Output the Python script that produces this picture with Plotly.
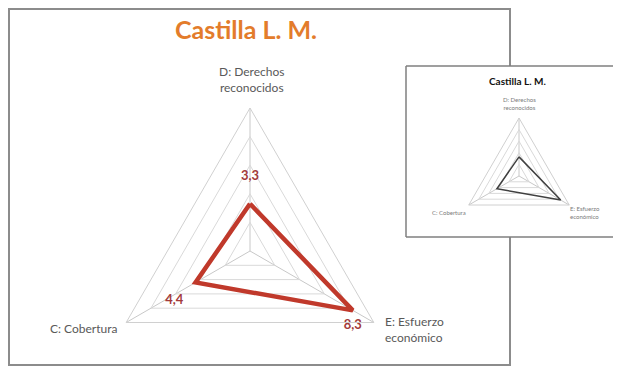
import plotly.graph_objects as go

# radar data (Castilla L. M.)
categories = ["D: Derechos<br>reconocidos", "C: Cobertura", "E: Esfuerzo<br>económico"]
values = [3.3, 4.4, 8.3]
value_labels = ["3,3", "4,4", "8,3"]

W, H = 621, 400
OFF = 8  # page body margin


def px(x):
    return (x - OFF) / W


def py(y):
    return 1 - (y - OFF) / H


cat_closed = categories + categories[:1]
val_closed = values + values[:1]

fig = go.Figure()

# main chart
fig.add_trace(go.Scatterpolar(
    r=val_closed, theta=cat_closed, mode="lines",
    line=dict(color="#C0392B", width=4.5), subplot="polar",
    hoverinfo="skip", showlegend=False))
fig.add_trace(go.Scatterpolar(
    r=values, theta=categories, mode="markers+text",
    text=value_labels, textposition=["top center", "bottom left", "bottom center"],
    marker=dict(size=[32, 18, 12], opacity=0),
    textfont=dict(family="Lato", size=13, color="#A33A3A", weight="bold"),
    subplot="polar", hoverinfo="skip", showlegend=False))

# small inset copy
fig.add_trace(go.Scatterpolar(
    r=val_closed, theta=cat_closed, mode="lines",
    line=dict(color="#404040", width=1.5), subplot="polar2",
    hoverinfo="skip", showlegend=False))

radial = dict(range=[0, 10], dtick=2, showticklabels=False, ticks="",
              showline=False, gridcolor="#d9d9d9", gridwidth=1)
angular = dict(rotation=90, direction="counterclockwise", ticks="", showticklabels=False,
               showline=True, linecolor="#d0d0d0", gridcolor="#c8c8c8")

# category labels placed by hand around the triangles
main_lab = [(251, 79.5, "center"), (119, 328, "right"), (383, 329.5, "left")]
inset_lab = [(519, 103, "center"), (468, 213, "right"), (568, 213, "left")]

annotations = [
    dict(text="Castilla L. M.", x=px(246), y=py(29), xref="paper", yref="paper",
         showarrow=False, xanchor="center", yanchor="middle",
         font=dict(family="Lato", size=25, color="#E37C2B", weight="bold")),
    dict(text="Castilla L. M.", x=px(517), y=py(81), xref="paper", yref="paper",
         showarrow=False, xanchor="center", yanchor="middle",
         font=dict(family="Lato", size=10, color="#111111", weight="bold")),
]
for (x, y, anc), cat in zip(main_lab, categories):
    annotations.append(dict(text=cat, x=px(x), y=py(y), xref="paper", yref="paper",
                            showarrow=False, xanchor=anc, yanchor="middle", align=anc,
                            font=dict(family="Lato", size=12, color="#595959")))
for (x, y, anc), cat in zip(inset_lab, categories):
    annotations.append(dict(text=cat, x=px(x), y=py(y), xref="paper", yref="paper",
                            showarrow=False, xanchor=anc, yanchor="middle", align=anc,
                            font=dict(family="Lato", size=6, color="#7a7a7a")))

box_line = dict(color="#7f7f7f", width=1.5)
shapes = [
    # main frame
    dict(type="rect", xref="paper", yref="paper", layer="below",
         x0=px(9), x1=px(510), y0=py(365), y1=py(9),
         line=dict(color="#8c8c8c", width=2), fillcolor="white"),
    # inset panel (white patch + three visible edges)
    dict(type="rect", xref="paper", yref="paper", layer="below",
         x0=px(406), x1=px(700), y0=py(237), y1=py(66),
         line=dict(width=0), fillcolor="white"),
    dict(type="line", xref="paper", yref="paper", layer="below",
         x0=px(406), x1=px(700), y0=py(66), y1=py(66), line=box_line),
    dict(type="line", xref="paper", yref="paper", layer="below",
         x0=px(406), x1=px(700), y0=py(237), y1=py(237), line=box_line),
    dict(type="line", xref="paper", yref="paper", layer="below",
         x0=px(406), x1=px(406), y0=py(237), y1=py(66), line=box_line),
]

fig.update_layout(
    width=W, height=H,
    margin=dict(l=0, r=0, t=0, b=0),
    paper_bgcolor="white",
    font=dict(family="Lato", color="#595959"),
    polar=dict(
        domain=dict(x=[px(250 - 143), px(250 + 143)], y=[py(251 + 143), py(251 - 143)]),
        bgcolor="rgba(0,0,0,0)", gridshape="linear",
        radialaxis=radial, angularaxis=angular),
    polar2=dict(
        domain=dict(x=[px(519 - 58), px(519 + 58)], y=[py(176 + 58), py(176 - 58)]),
        bgcolor="rgba(0,0,0,0)", gridshape="linear",
        radialaxis=radial, angularaxis=angular),
    shapes=shapes,
    annotations=annotations,
)

fig.write_html("out.html")
